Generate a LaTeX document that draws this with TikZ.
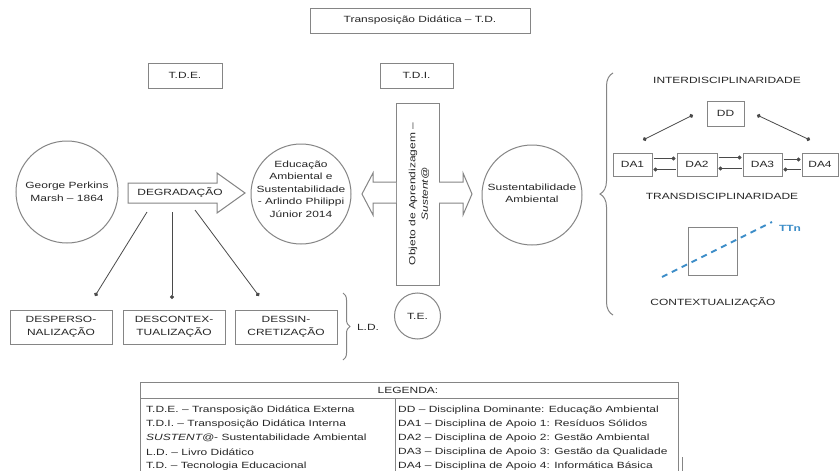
\documentclass[tikz,border=0pt]{standalone}
\usepackage{fontspec}
\setmainfont{Liberation Sans}[FakeStretch=1.33]
\usetikzlibrary{arrows.meta,decorations.pathreplacing,calc}
\definecolor{txt}{HTML}{262626}
\definecolor{edgec}{HTML}{858585}
\definecolor{lnc}{HTML}{4A4A4A}
\definecolor{tblue}{HTML}{3C8DC8}
\begin{document}
\begin{tikzpicture}[x=1pt,y=-1pt,
  every node/.style={font=\fontsize{9}{12.5}\selectfont, text=txt, inner sep=0pt},
  box/.style={draw=edgec, line width=1pt, align=center},
  circ/.style={draw=edgec, line width=1pt, circle},
  conn/.style={draw=lnc, line width=0.8pt},
  dotend/.style={-{Circle[length=4pt]}},
  dotboth/.style={{Circle[length=4pt]}-{Circle[length=4pt]}},
  blockarrow/.style={draw=edgec, line width=1pt, fill=white},
  bracec/.style={draw=edgec, line width=1pt, decorate},
  legtext/.style={anchor=west}
]
\useasboundingbox[fill=white] (0,0) rectangle (839,471);

% top boxes
\node[box, minimum width=220pt, minimum height=25pt] (title) at (420,20.5) {Transposição Didática – T.D.};
\node[box, minimum width=74pt, minimum height=25pt] (tde) at (185,75.5) {T.D.E.};
\node[box, minimum width=73pt, minimum height=25pt] (tdi) at (416.5,75.5) {T.D.I.};

% circles
\node[circ, minimum size=102pt] (george) at (67,192) {};
\node[align=center] (georget) at (67,192) {George Perkins\\Marsh – 1864};
\node[circ, minimum size=100pt] (edu) at (301,194) {};
\node[align=center] (edut) at (301,189) {Educação\\Ambiental e\\Sustentabilidade\\- Arlindo Philippi\\Júnior 2014};
\node[circ, minimum size=100pt] (sust) at (532,195) {};
\node[align=center] (sustt) at (532,193.5) {Sustentabilidade\\Ambiental};
\node[circ, minimum size=46pt] (te) at (417.5,316) {T.E.};

% vertical box
\node[box, minimum width=43pt, minimum height=182pt] (vbox) at (417.5,194) {};
\node[rotate=90, align=center] (vboxt) at (419,194) {Objeto de Aprendizagem –\\\textit{Sustent@}};

% block arrows
\draw[blockarrow] (128,183) -- (217,183) -- (217,173) -- (245,193) -- (217,213) -- (217,203) -- (128,203) -- cycle;
\node (degt) at (180,193) {DEGRADAÇÃO};
\draw[blockarrow] (396,182) -- (373,182) -- (373,173) -- (362,194) -- (373,215) -- (373,203) -- (396,203);
\draw[blockarrow] (439,182) -- (463,182) -- (463,173) -- (472,194) -- (463,215) -- (463,203) -- (439,203);

% lower boxes
\node[box, minimum width=102pt, minimum height=34pt] (desp) at (61,327) {DESPERSO-\\NALIZAÇÃO};
\node[box, minimum width=102pt, minimum height=34pt] (desc) at (174,327) {DESCONTEX-\\TUALIZAÇÃO};
\node[box, minimum width=102pt, minimum height=34pt] (dess) at (286,327) {DESSIN-\\CRETIZAÇÃO};

% degradation connectors
\coordinate (d1s) at (147,212); \coordinate (d1e) at (95,296);
\coordinate (d2s) at (172,212); \coordinate (d2e) at (172,299);
\coordinate (d3s) at (195,210); \coordinate (d3e) at (259,296);
\draw[conn, dotend] (d1s) -- (d1e);
\draw[conn, dotend] (d2s) -- (d2e);
\draw[conn, dotend] (d3s) -- (d3e);

% L.D. brace
\draw[bracec, decoration={brace, amplitude=7pt}] (343,293) -- (343,360);
\node (ld) at (368,327) {L.D.};

% big brace
\draw[bracec, decoration={brace, amplitude=13pt}] (613,315) -- (613,73);

% right side
\node (inter) at (727,80) {INTERDISCIPLINARIDADE};
\node[box, minimum width=37pt, minimum height=25pt] (dd) at (725.5,113.5) {DD};
\node[box, minimum width=39pt, minimum height=23pt] (da1) at (632.5,164.5) {DA1};
\node[box, minimum width=40pt, minimum height=23pt] (da2) at (697,164.5) {DA2};
\node[box, minimum width=39pt, minimum height=23pt] (da3) at (762.5,164.5) {DA3};
\node[box, minimum width=36pt, minimum height=23pt] (da4) at (820,164.5) {DA4};

\coordinate (ddl) at (693,115); \coordinate (da1t) at (643,140);
\coordinate (ddr) at (757,115); \coordinate (da4t) at (810,140);
\draw[conn, dotboth] (ddl) -- (da1t);
\draw[conn, dotboth] (ddr) -- (da4t);

\draw[conn, dotend] ($(da1.east)+(1,-6)$) -- ($(da2.west)+(-1,-6)$);
\draw[conn, dotend] ($(da2.west)+(-1,5)$) -- ($(da1.east)+(1,5)$);
\draw[conn, dotend] ($(da2.east)+(1,-7)$) -- ($(da3.west)+(-1,-7)$);
\draw[conn, dotend] ($(da3.west)+(-1,4)$) -- ($(da2.east)+(1,4)$);
\draw[conn, dotend] ($(da3.east)+(1,-5)$) -- ($(da4.west)+(-1,-5)$);
\draw[conn, dotend] ($(da4.west)+(-1,5)$) -- ($(da3.east)+(1,5)$);

\node (trans) at (722,196) {TRANSDISCIPLINARIDADE};
\node[draw=edgec, line width=1pt, minimum width=49pt, minimum height=48pt] (sq) at (712.5,251) {};
\coordinate (tts) at (662,277); \coordinate (tte) at (772,222);
\draw[tblue, line width=1.8pt, dash pattern=on 6pt off 5pt] (tts) -- (tte);
\node[text=tblue] (ttn) at (790,228) {\textbf{TTn}};
\node (cont) at (713,303) {CONTEXTUALIZAÇÃO};

% legend
\draw[draw=edgec, line width=1pt] (140,474) -- (140,382) -- (678,382) -- (678,474);
\draw[draw=edgec, line width=1pt] (140,398) -- (678,398);
\draw[draw=edgec, line width=1pt] (395,398) -- (395,474);
\draw[draw=edgec, line width=1pt] (682,457) -- (682,474);
\node (legh) at (408,390) {LEGENDA:};
\node[legtext] (l1) at (146,410) {T.D.E. – Transposição Didática Externa};
\node[legtext] (l2) at (146,424) {T.D.I. – Transposição Didática Interna};
\node[legtext] (l3) at (146,438) {\textit{SUSTENT@}- Sustentabilidade Ambiental};
\node[legtext] (l4) at (146,452) {L.D. – Livro Didático};
\node[legtext] (l5) at (146,466) {T.D. – Tecnologia Educacional};
\node[legtext] (r1) at (398,410) {DD – Disciplina Dominante: Educação Ambiental};
\node[legtext] (r2) at (398,424) {DA1 – Disciplina de Apoio 1: Resíduos Sólidos};
\node[legtext] (r3) at (398,438) {DA2 – Disciplina de Apoio 2: Gestão Ambiental};
\node[legtext] (r4) at (398,452) {DA3 – Disciplina de Apoio 3: Gestão da Qualidade};
\node[legtext] (r5) at (398,466) {DA4 – Disciplina de Apoio 4: Informática Básica};
\end{tikzpicture}
\end{document}
